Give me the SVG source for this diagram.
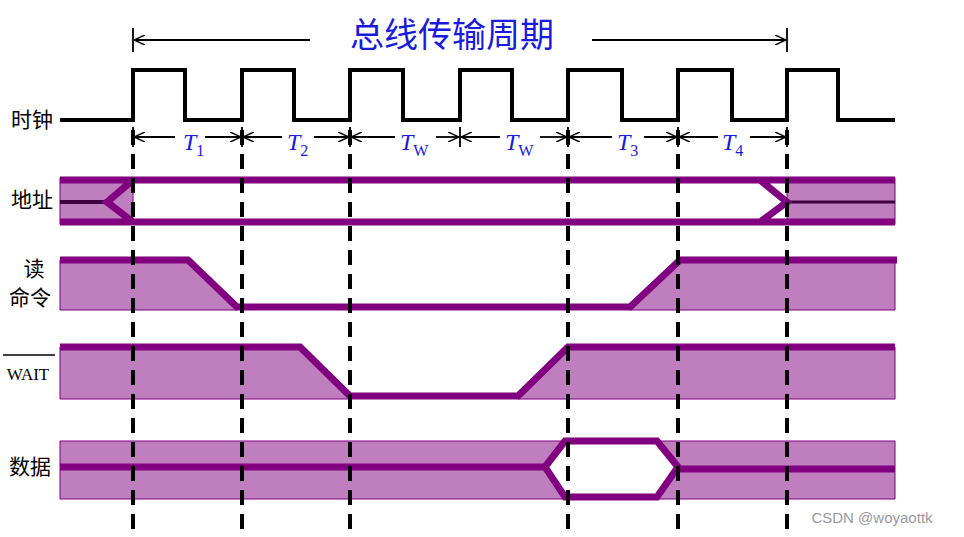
<svg xmlns="http://www.w3.org/2000/svg" width="964" height="537" viewBox="0 0 964 537">
<defs>
<marker id="ar" markerWidth="12" markerHeight="10" refX="11" refY="5" orient="auto" markerUnits="userSpaceOnUse"><path d="M0,0 L11,5 L0,10" fill="none" stroke="#000" stroke-width="1.5"/></marker>
<style>
.lbl{font-family:"Noto Sans CJK SC","Liberation Serif",serif;font-size:21px;fill:#000}
.t{font-family:"Liberation Serif",serif;font-style:italic;font-size:24px;fill:#1a1adc}
.sub{font-style:normal;font-size:16px}
.sig{fill:none;stroke:#800080;stroke-width:7}
.fill{fill:#bf7fbf;stroke:#800080;stroke-width:1}
.dash{stroke:#000;stroke-width:4;stroke-dasharray:15,9}
.ar{stroke:#000;stroke-width:1.8;marker-end:url(#ar)}
.tick{stroke:#000;stroke-width:1.8}
</style>
</defs>
<rect width="964" height="537" fill="#fff"/>
<!-- top arrow -->
<line class="tick" x1="133" y1="28" x2="133" y2="52"/>
<line class="tick" x1="787" y1="28" x2="787" y2="52"/>
<line class="ar" x1="310" y1="40" x2="134" y2="40"/>
<line class="ar" x1="592" y1="40" x2="786" y2="40"/>
<text x="452" y="47" text-anchor="middle" font-family="Noto Sans CJK SC,sans-serif" font-size="34" fill="#1a1adc">总线传输周期</text>
<!-- clock -->
<path d="M60,120 H133 V70 H185 V120 H242 V70 H294 V120 H350 V70 H403 V120 H460 V70 H512 V120 H568 V70 H622 V120 H678 V70 H732 V120 H787 V70 H838 V120 H895" fill="none" stroke="#000" stroke-width="4"/>
<text class="lbl" x="32" y="127" text-anchor="middle">时钟</text>
<!-- period arrows -->
<g>
<line class="tick" x1="133" y1="127" x2="133" y2="147"/>
<line class="tick" x1="242" y1="127" x2="242" y2="147"/>
<line class="tick" x1="350" y1="127" x2="350" y2="147"/>
<line class="tick" x1="460" y1="127" x2="460" y2="147"/>
<line class="tick" x1="568" y1="127" x2="568" y2="147"/>
<line class="tick" x1="678" y1="127" x2="678" y2="147"/>
<line class="tick" x1="787" y1="127" x2="787" y2="147"/>
<line class="ar" x1="175" y1="137" x2="134" y2="137"/><line class="ar" x1="205" y1="137" x2="241" y2="137"/>
<line class="ar" x1="282" y1="137" x2="243" y2="137"/><line class="ar" x1="314" y1="137" x2="349" y2="137"/>
<line class="ar" x1="395" y1="137" x2="351" y2="137"/><line class="ar" x1="436" y1="137" x2="459" y2="137"/>
<line class="ar" x1="500" y1="137" x2="461" y2="137"/><line class="ar" x1="540" y1="137" x2="567" y2="137"/>
<line class="ar" x1="612" y1="137" x2="569" y2="137"/><line class="ar" x1="644" y1="137" x2="677" y2="137"/>
<line class="ar" x1="718" y1="137" x2="679" y2="137"/><line class="ar" x1="750" y1="137" x2="786" y2="137"/>
<text class="t" x="183" y="150">T<tspan class="sub" dy="6">1</tspan></text>
<text class="t" x="287" y="150">T<tspan class="sub" dy="6">2</tspan></text>
<text class="t" x="400" y="150">T<tspan class="sub" dy="6">W</tspan></text>
<text class="t" x="505" y="150">T<tspan class="sub" dy="6">W</tspan></text>
<text class="t" x="617" y="150">T<tspan class="sub" dy="6">3</tspan></text>
<text class="t" x="722" y="150">T<tspan class="sub" dy="6">4</tspan></text>
</g>
<!-- address -->
<rect class="fill" x="60" y="178" width="73" height="46"/>
<rect class="fill" x="787" y="178" width="108" height="46"/>
<path d="M60,202 H107" stroke="#400040" stroke-width="4"/>
<path d="M787,202 H895" stroke="#400040" stroke-width="3"/>
<path class="sig" d="M60,180 H895 M60,222 H895 M133,180 L107,202 L133,222 M760,180 L787,202 L760,222"/>
<text class="lbl" x="32" y="207" text-anchor="middle">地址</text>
<!-- read -->
<path class="fill" d="M60,260 H188 L237,310 H60 Z M630,310 L680,260 H895 V310 Z"/>
<path class="sig" d="M60,260 H188 L237,307 H630 L680,260 H897"/>
<text class="lbl" x="34" y="276" text-anchor="middle">读</text>
<text class="lbl" x="30" y="305" text-anchor="middle">命令</text>
<!-- wait -->
<path class="fill" d="M60,347 H300 L350,399 H60 Z M518,399 L568,347 H895 V399 Z"/>
<path class="sig" d="M60,347 H300 L350,396 H518 L568,347 H895"/>
<line x1="3" y1="355" x2="55" y2="355" stroke="#000" stroke-width="1.5"/>
<text x="28" y="380" text-anchor="middle" font-family="Liberation Serif,serif" font-size="17">WAIT</text>
<!-- data -->
<path class="fill" fill-rule="evenodd" d="M60,441 H895 V499 H60 Z M548,467 L565,441 H657 L675,467 L657,497 H565 Z"/>
<path class="sig" d="M60,467 H545 M678,469 H895 M545,467 L565,441 H657 L678,467 L657,497 H565 Z"/>
<text class="lbl" x="30" y="474" text-anchor="middle">数据</text>
<!-- dashed -->
<g>
<line class="dash" x1="133" y1="130" x2="133" y2="530"/>
<line class="dash" x1="242" y1="130" x2="242" y2="530"/>
<line class="dash" x1="350" y1="130" x2="350" y2="530"/>
<line class="dash" x1="568" y1="130" x2="568" y2="530"/>
<line class="dash" x1="678" y1="130" x2="678" y2="530"/>
<line class="dash" x1="787" y1="130" x2="787" y2="530"/>
</g>
<text x="872" y="523" text-anchor="middle" font-family="Liberation Sans,sans-serif" font-size="15" fill="#999">CSDN @woyaottk</text>
</svg>
